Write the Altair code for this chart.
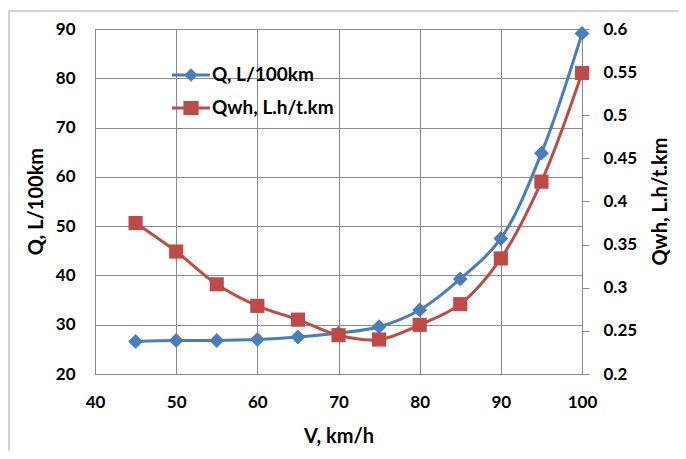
import altair as alt
import pandas as pd

# ---- data ----
speed = [45, 50, 55, 60, 65, 70, 75, 80, 85, 90, 95, 100]
q_l100 = [26.6, 26.8, 26.8, 27.0, 27.5, 28.3, 29.6, 33.0, 39.3, 47.5, 64.8, 89.1]
qwh = [0.375, 0.342, 0.304, 0.279, 0.263, 0.245, 0.240, 0.257, 0.281, 0.334, 0.423, 0.549]
series_names = ["Q, L/100km", "Qwh, L.h/t.km"]
x_ticks = [40, 50, 60, 70, 80, 90, 100]
left_ticks = [20, 30, 40, 50, 60, 70, 80, 90]
right_ticks = [0.2, 0.25, 0.3, 0.35, 0.4, 0.45, 0.5, 0.55, 0.6]

BLUE = "#4A7EBB"
RED = "#BE4B48"
GRID = "#8C8C8C"
FONT = "Lato"

df = pd.DataFrame({"V": speed, "Q": q_l100, "Qwh": qwh})
df_long = pd.DataFrame({
    "V": speed + speed,
    "value": q_l100 + qwh,
    "series": [series_names[0]] * len(speed) + [series_names[1]] * len(speed),
})

# legend symbols: line + marker
path_q = "M-1,-0.08L1,-0.08L1,0.08L-1,0.08Z M0,-0.36L0.36,0L0,0.36L-0.36,0Z"
path_w = "M-1,-0.08L1,-0.08L1,0.08L-1,0.08Z M-0.4,-0.37L0.4,-0.37L0.4,0.37L-0.4,0.37Z"

x_enc = alt.X("V:Q", scale=alt.Scale(domain=[40, 100], nice=False),
              axis=alt.Axis(values=x_ticks, title="V, km/h", grid=True, ticks=False,
                            labelPadding=20, titlePadding=16, format="d",
                            labelFlush=False))

y_left = alt.Y("Q:Q", scale=alt.Scale(domain=[20, 90], nice=False, zero=False),
               axis=alt.Axis(values=left_ticks, title="Q, L/100km", grid=True, ticks=False,
                             labelPadding=20, titleX=-59, titleY=172, labelFlush=False,
                             titleBaseline="middle", titleAlign="center", titleAngle=270,
                             format="d"))

y_right = alt.Y("Qwh:Q", scale=alt.Scale(domain=[0.2, 0.6], nice=False, zero=False),
                axis=alt.Axis(values=right_ticks, title="Qwh, L.h/t.km", orient="right",
                              grid=False, ticks=True, tickSize=7, tickColor=GRID,
                              labelPadding=14, titleX=78, titleY=172, titleAngle=270,
                              titleBaseline="middle", titleAlign="center",
                              labelFlush=False, format=".2~f"))

blue_line = alt.Chart(df).mark_line(strokeWidth=3, interpolate="catmull-rom").encode(
    x=x_enc, y=y_left, color=alt.value(BLUE))
blue_pts = alt.Chart(df).mark_point(filled=True, opacity=1, shape="diamond", size=220).encode(
    x=x_enc, y=y_left, color=alt.value(BLUE))

leg_kwargs = dict(orient="none", legendX=77, legendY=27, title=None, symbolSize=1444,
                  symbolStrokeWidth=0, symbolOpacity=1, labelFont=FONT, labelFontSize=19,
                  labelFontWeight="bold", labelColor="black", rowPadding=4, padding=0,
                  labelOffset=2, labelLimit=400)

legend_layer = alt.Chart(df_long).transform_filter("datum.V < 0").mark_point(
    filled=True, opacity=1).encode(
    x=alt.X("V:Q"),
    y=alt.Y("value:Q"),
    color=alt.Color("series:N", scale=alt.Scale(domain=series_names, range=[BLUE, RED]),
                    legend=alt.Legend(**leg_kwargs)),
    shape=alt.Shape("series:N", scale=alt.Scale(domain=series_names, range=[path_q, path_w]),
                    legend=alt.Legend(**leg_kwargs)),
)

left = alt.layer(blue_line, blue_pts, legend_layer)

red_line = alt.Chart(df).mark_line(strokeWidth=3, interpolate="catmull-rom").encode(
    x=x_enc, y=y_right, color=alt.value(RED))
red_pts = alt.Chart(df).mark_point(filled=True, opacity=1, shape="square", size=200).encode(
    x=x_enc, y=y_right, color=alt.value(RED))

right = alt.layer(red_line, red_pts)

frame = alt.Chart(pd.DataFrame({"a": [0]})).mark_rect(
    fill=None, stroke="#A6A6A6", strokeWidth=1).encode(
    x=alt.value(-86), x2=alt.value(700), y=alt.value(-18), y2=alt.value(500))

chart = alt.layer(frame, left, right).resolve_scale(y="independent").properties(
    width=487, height=345,
    background="white",
    autosize=alt.AutoSizeParams(type="none"),
    padding={"left": 87, "top": 21, "right": 96, "bottom": 77},
).configure_view(stroke=GRID, strokeWidth=1).configure_axis(
    labelFont=FONT, labelFontSize=17, labelFontWeight="bold", labelColor="black",
    titleFont=FONT, titleFontSize=20, titleFontWeight="bold", titleColor="black",
    gridColor=GRID, gridWidth=1, gridOpacity=1, domainColor=GRID, domainWidth=1,
)

chart.save("out.html", embed_options={"renderer": "svg", "actions": False})
